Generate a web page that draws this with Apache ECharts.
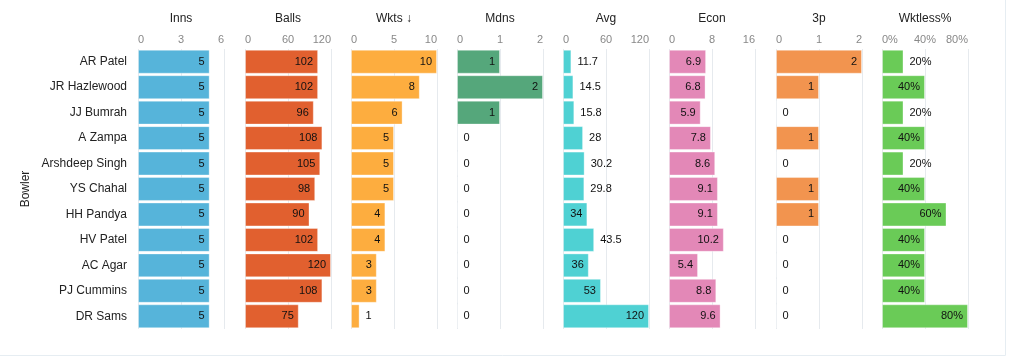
<!DOCTYPE html>
<html><head><meta charset="utf-8">
<script src="https://cdn.jsdelivr.net/npm/echarts@6/dist/echarts.min.js"></script>
<style>html,body{margin:0;padding:0;background:#fff}#c{width:1009px;height:356px}</style>
</head><body><div id="c"></div>
<script>
const bowlers = ["AR Patel","JR Hazlewood","JJ Bumrah","A Zampa","Arshdeep Singh","YS Chahal","HH Pandya","HV Patel","AC Agar","PJ Cummins","DR Sams"];
const inns = [5,5,5,5,5,5,5,5,5,5,5];
const balls = [102,102,96,108,105,98,90,102,120,108,75];
const wkts = [10,8,6,5,5,5,4,4,3,3,1];
const mdns = [1,2,1,0,0,0,0,0,0,0,0];
const avg = [11.7,14.5,15.8,28,30.2,29.8,34,43.5,36,53,120];
const econ = [6.9,6.8,5.9,7.8,8.6,9.1,9.1,10.2,5.4,8.8,9.6];
const threeP = [2,1,0,1,0,1,1,0,0,0,0];
const wktless = [20,40,20,40,20,40,60,40,40,40,80];
const titles = ["Inns","Balls","Wkts ↓","Mdns","Avg","Econ","3p","Wktless%"];
const maxes = [6,120,10,2,120,16,2,80];
const intervals = [3,60,5,1,60,8,1,40];
const colors = ["#56b4da","#e1602f","#fdad3f","#55a77b","#4fd1d3","#e388b7","#f2944f","#6acb57"];
const seriesData = [inns,balls,wkts,mdns,avg,econ,threeP,wktless];
const isPct = [false,false,false,false,false,false,false,true];

const lefts = [138,245,351,457,563,669,776,882];
const W = 86, TOP = 49, H = 280;
const FONT = "Liberation Sans, Arial, sans-serif";

const cv = document.createElement('canvas').getContext('2d');
cv.font = "11px Liberation Sans";
function tw(t){ return cv.measureText(t).width; }

const chart = echarts.init(document.getElementById('c'), null, {renderer:'canvas'});
const grid=[], xAxis=[], yAxis=[], series=[];
for (let i=0;i<8;i++){
  grid.push({left:lefts[i], top:TOP, width:W, height:H});
  xAxis.push({type:'value', gridIndex:i, position:'top', min:0, max:maxes[i], interval:intervals[i],
    name:titles[i], nameLocation:'middle', nameGap:24,
    nameTextStyle:{color:'#222', fontSize:12, fontFamily:FONT},
    axisLine:{show:false}, axisTick:{show:false},
    axisLabel:{color:'#888', fontSize:11, fontFamily:FONT, margin:4,
      alignMinLabel:'left', alignMaxLabel:'right',
      formatter: isPct[i] ? (v=>v+'%') : (v=>String(v))},
    splitLine:{show:true, lineStyle:{color:'#e6eaee', width:1}}
  });
  yAxis.push({type:'category', gridIndex:i, data:bowlers, inverse:true,
    axisLine:{show:false}, axisTick:{show:false},
    axisLabel:{show:i===0, color:'#222', fontSize:12, fontFamily:FONT, margin:11},
    name: i===0 ? 'Bowler' : '', nameLocation:'middle', nameRotate:90, nameGap:106,
    nameTextStyle:{color:'#222', fontSize:12, fontFamily:FONT},
    splitLine:{show:false}
  });
  const data = seriesData[i].map(v=>{
    const txt = isPct[i] ? v+'%' : String(v);
    const px = v/maxes[i]*W;
    const inside = px > tw(txt) + 12;
    return {value:v, label:{position: inside ? 'insideRight' : 'right', distance: inside ? 5 : 6}};
  });
  series.push({type:'bar', xAxisIndex:i, yAxisIndex:i, data:data, barCategoryGap:'6%',
    itemStyle:{color:colors[i], borderColor:'rgba(255,255,255,0.35)', borderWidth:1},
    label:{show:true, color:'#111', fontSize:11, fontFamily:FONT,
      formatter: isPct[i] ? (p=>p.value+'%') : (p=>String(p.value))},
    silent:true, animation:false
  });
}
chart.setOption({
  animation:false,
  grid, xAxis, yAxis, series,
  graphic:[
    {type:'line', shape:{x1:1005.5,y1:0,x2:1005.5,y2:355.5}, style:{stroke:'#e6edf2', lineWidth:1}},
    {type:'line', shape:{x1:0,y1:355.5,x2:1005.5,y2:355.5}, style:{stroke:'#e6edf2', lineWidth:1}}
  ]
});
</script></body></html>
